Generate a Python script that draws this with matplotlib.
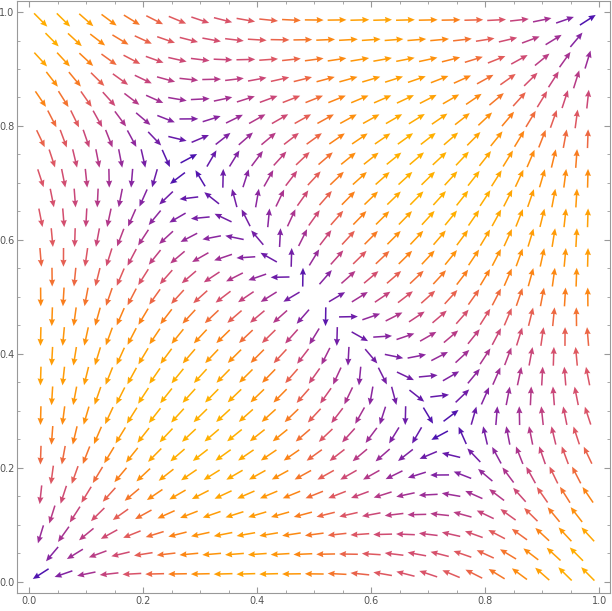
import numpy as np
import matplotlib
matplotlib.use('Agg')
import matplotlib.pyplot as plt
from matplotlib.colors import LinearSegmentedColormap

# arrow readings from the picture: position, direction (deg) and colour level (0 purple .. 1 yellow)
obs_rows = [
    # upper-left block
    (0.986, [0.016, 0.056, 0.096, 0.135, 0.175, 0.214, 0.254, 0.293], [-47, -40, -36, -33, -29, -27, -22, -19], [1.0, .87, .75, .75, .63, .53, .53, .5]),
    (0.951, [0.035, 0.075, 0.115, 0.155, 0.194, 0.233, 0.273], [-44, -40, -35, -30, -26, -18, -15], [.8, .75, .63, .55, .53, .45, .38]),
    (0.916, [0.016, 0.056, 0.096, 0.135, 0.175, 0.214, 0.254, 0.293], [-53, -45, -40, -34, -28, -20, -10, -5], [.78, .75, .63, .55, .5, .43, .38, .35]),
    (0.880, [0.036, 0.075, 0.115, 0.155, 0.194, 0.233, 0.273], [-55, -52, -45, -35, -20, -10, 0], [.75, .63, .55, .5, .4, .3, .25]),
    (0.846, [0.016, 0.056, 0.096, 0.135, 0.175, 0.214, 0.254, 0.293], [-60, -55, -50, -40, -27, -15, 0, 5], [.72, .7, .55, .45, .35, .22, .15, .15]),
    (0.811, [0.036, 0.075, 0.115, 0.155, 0.194, 0.233, 0.273], [-65, -62, -58, -50, -35, -20, 5], [.63, .55, .45, .35, .2, .12, .12]),
    (0.776, [0.016, 0.056, 0.096, 0.135, 0.175, 0.214, 0.254, 0.293], [-64, -68, -66, -63, -60, -50, -15, 15], [.55, .53, .4, .3, .22, .12, .08, .08]),
    (0.740, [0.036, 0.075, 0.115, 0.155, 0.194, 0.233, 0.273], [-75, -76, -78, -80, -78, -70, 15], [.53, .5, .4, .3, .15, .08, .06]),
    (0.706, [0.016, 0.056, 0.096, 0.135, 0.175, 0.214, 0.254, 0.300], [-74, -84, -86, -88, -92, -100, -130, 115], [.5, .5, .4, .3, .2, .1, .05, .05]),
    # left block
    (0.632, [0.016, 0.056, 0.096, 0.135, 0.175, 0.214, 0.254, 0.293], [-82, -85, -90, -95, -110, -125, -145, -160], [.5, .45, .35, .33, .25, .15, .1, .1]),
    (0.597, [0.036, 0.075, 0.115, 0.155, 0.194, 0.233, 0.273, 0.310], [-87, -90, -95, -105, -120, -130, -145, -160], [.53, .5, .45, .43, .35, .33, .25, .2]),
    (0.562, [0.016, 0.056, 0.096, 0.135, 0.175, 0.214, 0.254, 0.293], [-88, -90, -95, -105, -115, -125, -135, -145], [.58, .55, .53, .5, .45, .38, .33, .28]),
    (0.526, [0.036, 0.075, 0.115, 0.155, 0.194, 0.233, 0.273, 0.310], [-90, -95, -100, -110, -120, -128, -135, -140], [.65, .63, .58, .55, .53, .5, .45, .38]),
    (0.491, [0.016, 0.056, 0.096, 0.135, 0.175, 0.214, 0.254, 0.293], [-90, -95, -100, -110, -115, -125, -130, -135], [.75, .75, .73, .72, .7, .65, .6, .53]),
    (0.456, [0.036, 0.075, 0.115, 0.155, 0.194, 0.233, 0.273, 0.310], [-92, -97, -105, -113, -120, -125, -130, -135], [.82, .8, .78, .77, .75, .75, .73, .7]),
    (0.420, [0.016, 0.096, 0.175, 0.254], [-90, -102, -118, -128], [.88, .87, .87, .85]),
    (0.385, [0.036, 0.115, 0.194, 0.273], [-92, -105, -120, -128], [.9, .9, .9, .9]),
    (0.350, [0.016, 0.096, 0.175, 0.254], [-92, -102, -118, -128], [.95, .95, .95, .95]),
    # lower-left block
    (0.290, [0.036, 0.115, 0.194, 0.273], [-93, -108, -122, -132], [.8, .85, .95, 1.0]),
    (0.256, [0.016, 0.056, 0.096, 0.135, 0.175, 0.214, 0.254, 0.293], [-93, -100, -110, -120, -125, -130, -135, -140], [.75, .75, .75, .78, .85, .95, 1.0, 1.0]),
    (0.220, [0.036, 0.075, 0.115, 0.155, 0.194, 0.233, 0.273, 0.310], [-95, -105, -115, -125, -135, -140, -145, -150], [.68, .72, .75, .77, .8, .88, .95, .95]),
    (0.182, [0.016, 0.056, 0.096, 0.135, 0.175, 0.214, 0.254, 0.293], [-95, -105, -115, -125, -135, -145, -150, -155], [.55, .63, .65, .72, .75, .78, .8, .88]),
    (0.144, [0.036, 0.075, 0.115, 0.155, 0.194, 0.233, 0.273, 0.310], [-100, -110, -125, -135, -145, -155, -160, -160], [.45, .53, .55, .63, .72, .75, .78, .8]),
    (0.111, [0.016, 0.056, 0.096, 0.135, 0.175, 0.214, 0.254, 0.293], [-105, -115, -130, -145, -150, -160, -165, -165], [.35, .38, .45, .53, .6, .7, .75, .78]),
    (0.076, [0.036, 0.075, 0.115, 0.155, 0.194, 0.233, 0.273, 0.310], [-110, -125, -140, -155, -160, -165, -170, -172], [.25, .33, .43, .53, .6, .7, .75, .78]),
    (0.042, [0.016, 0.056, 0.096, 0.135, 0.175, 0.214, 0.254, 0.293], [-125, -140, -155, -165, -170, -172, -175, -175], [.12, .22, .33, .45, .53, .63, .72, .78]),
    (0.014, [0.02, 0.06, 0.10, 0.14, 0.18, 0.22, 0.26, 0.30, 0.34, 0.38, 0.42, 0.46, 0.50, 0.54, 0.58, 0.62, 0.66, 0.70, 0.74, 0.78, 0.82, 0.86, 0.90, 0.94, 0.98],
     [-140, -160, -165, -170, -175, -178, 180, 180, 180, 180, 180, 180, 180, 178, 175, 170, 165, 158, 152, 145, 142, 140, 137, 135, 130],
     [.1, .2, .3, .4, .53, .63, .75, .87, .95, 1.0, .9, .8, .75, .68, .6, .55, .53, .53, .55, .63, .7, .78, .87, .95, 1.0]),
    # centre block
    (0.739, [0.320, 0.358, 0.400, 0.440, 0.478, 0.520, 0.560, 0.600, 0.640], [60, 60, 55, 45, 40, 40, 38, 35, 35], [.12, .15, .33, .45, .55, .7, .85, .9, 1.0]),
    (0.703, [0.340, 0.381, 0.419, 0.458, 0.500, 0.540, 0.578, 0.620, 0.657], [90, 80, 60, 50, 45, 40, 40, 38, 35], [.08, .12, .22, .4, .6, .75, .78, .87, 1.0]),
    (0.668, [0.320, 0.358, 0.400, 0.440, 0.478, 0.520, 0.560, 0.600, 0.640], [145, 100, 80, 65, 55, 50, 45, 45, 45], [.08, .08, .2, .33, .45, .55, .75, .75, 1.0]),
    (0.636, [0.305, 0.340, 0.378, 0.419, 0.458, 0.500, 0.540, 0.580, 0.620, 0.657], [170, 160, 115, 90, 70, 60, 55, 50, 48, 45], [.2, .1, .08, .08, .33, .45, .53, .75, .75, .87]),
    (0.600, [0.320, 0.361, 0.393, 0.440, 0.480, 0.520, 0.560, 0.600, 0.640], [175, 175, 135, 90, 75, 60, 55, 50, 50], [.2, .1, .08, .08, .25, .45, .55, .75, .75]),
    (0.564, [0.305, 0.343, 0.381, 0.419, 0.460, 0.500, 0.540, 0.578, 0.620, 0.657], [-160, -175, 175, 155, 90, 65, 55, 50, 48, 45], [.35, .25, .1, .08, .06, .2, .43, .53, .75, .75]),
    (0.530, [0.305, 0.346, 0.387, 0.440, 0.480, 0.520, 0.559, 0.600, 0.640], [-150, -155, -165, 180, 90, 55, 45, 45, 45], [.53, .45, .25, .08, .05, .08, .45, .53, .75]),
    (0.497, [0.320, 0.358, 0.400, 0.460, 0.540, 0.578, 0.620, 0.657], [-135, -140, -145, -150, 30, 35, 35, 40], [.63, .53, .35, .08, .08, .33, .53, .63]),
    (0.462, [0.320, 0.361, 0.400, 0.440, 0.478, 0.520, 0.560, 0.600, 0.640], [-135, -135, -130, -120, -120, -90, 0, 15, 20], [.75, .63, .53, .35, .08, .05, .08, .22, .33]),
    (0.427, [0.305, 0.343, 0.381, 0.419, 0.458, 0.500, 0.540, 0.578, 0.620, 0.657], [-130, -130, -125, -115, -105, -100, -90, -30, 5, 10], [.75, .75, .63, .53, .35, .22, .1, .08, .08, .22]),
    (0.394, [0.320, 0.360, 0.400, 0.440, 0.480, 0.520, 0.560, 0.599, 0.643, 0.684, 0.728, 0.769, 0.807], [-130, -125, -120, -110, -100, -95, -85, -50, -10, 10, 30, 40, 50], [.87, .75, .63, .53, .35, .22, .1, .08, .08, .22, .33, .43, .53]),
    # saddle neighbourhoods
    (0.809, [0.200, 0.238, 0.279, 0.320, 0.358, 0.400], [-45, -25, 0, 15, 30, 40], [.22, .22, .22, .33, .33, .43]),
    (0.774, [0.179, 0.220, 0.261, 0.300, 0.340, 0.378, 0.416], [-60, -50, -15, 15, 40, 45, 50], [.33, .1, .08, .08, .22, .33, .43]),
    (0.670, [0.200, 0.235, 0.282, 0.320, 0.358, 0.400], [-115, -130, 170, 140, 105, 90], [.1, .08, .06, .08, .08, .1]),
    (0.355, [0.622, 0.660, 0.705, 0.740, 0.783, 0.815], [-68, -35, 10, 35, 50, 60], [.08, .08, .08, .22, .33, .43]),
    (0.320, [0.601, 0.640, 0.678, 0.720, 0.760, 0.800], [-100, -80, -40, 10, 45, 60], [.1, .08, .06, .06, .08, .22]),
    (0.285, [0.620, 0.660, 0.700, 0.740, 0.783, 0.820], [-110, -95, -65, 45, 75, 85], [.22, .1, .05, .06, .1, .22]),
    (0.250, [0.600, 0.640, 0.678, 0.722, 0.759, 0.800], [-125, -125, -115, 165, 115, 100], [.33, .22, .1, .06, .08, .1]),
    (0.214, [0.616, 0.658, 0.698, 0.742, 0.780, 0.820], [-135, -140, -160, 160, 130, 110], [.33, .22, .1, .08, .1, .22]),
    # lower-right block
    (0.182, [0.678, 0.722, 0.760, 0.800, 0.843, 0.880, 0.921, 0.960], [-175, 180, 160, 140, 130, 125, 125, 125], [.1, .1, .22, .33, .43, .53, .63, .75]),
    (0.146, [0.660, 0.700, 0.740, 0.780, 0.820, 0.860, 0.900, 0.940, 0.980], [180, 178, 170, 150, 140, 135, 130, 130, 125], [.22, .22, .33, .33, .43, .53, .63, .75, .87]),
    (0.111, [0.678, 0.720, 0.760, 0.800, 0.843, 0.880, 0.920, 0.960], [178, 175, 165, 150, 140, 135, 135, 130], [.33, .43, .45, .53, .63, .75, .75, .87]),
    (0.076, [0.660, 0.700, 0.740, 0.780, 0.820, 0.860, 0.900, 0.940, 0.980], [175, 172, 170, 160, 150, 140, 135, 135, 130], [.45, .53, .53, .53, .63, .75, .87, .87, 1.0]),
    (0.041, [0.678, 0.720, 0.760, 0.800, 0.843, 0.880, 0.920, 0.960], [170, 168, 160, 150, 145, 140, 135, 135], [.53, .53, .63, .75, .75, .87, 1.0, 1.0]),
    # upper-right block
    (0.985, [0.663, 0.704, 0.745, 0.784, 0.826, 0.867, 0.905, 0.943, 0.980], [0, 0, 0, 2, 3, 5, 8, 12, 40], [.75, .75, .63, .53, .45, .35, .25, .15, .1]),
    (0.914, [0.663, 0.704, 0.745, 0.784, 0.826, 0.867, 0.905, 0.943, 0.980], [10, 12, 15, 18, 25, 32, 40, 55, 75], [.75, .75, .75, .63, .53, .45, .35, .25, .2]),
    (0.810, [0.663, 0.704, 0.745, 0.784, 0.826, 0.867, 0.905, 0.943, 0.980], [30, 30, 35, 40, 45, 55, 65, 75, 85], [1.0, 1.0, .87, .75, .63, .53, .45, .45, .45]),
    (0.705, [0.663, 0.704, 0.745, 0.784, 0.826, 0.867, 0.905, 0.943, 0.980], [40, 40, 45, 45, 50, 60, 70, 80, 88], [1.0, 1.0, 1.0, .87, .75, .75, .63, .63, .6]),
    (0.600, [0.663, 0.704, 0.745, 0.784, 0.826, 0.867, 0.905, 0.943, 0.980], [40, 42, 45, 50, 55, 65, 75, 85, 90], [1.0, 1.0, 1.0, 1.0, .87, .75, .75, .75, .8]),
]

# points where the field vanishes (centre and the two saddles)
zero_x = [0.5, 0.285, 0.715]
zero_y = [0.5, 0.712, 0.288]

# colour scale used when reading the levels above
level_stops = [0.0, 0.1, 0.22, 0.33, 0.43, 0.53, 0.63, 0.75, 0.87, 1.0]
level_colors = ['#3f10b2', '#6419aa', '#8a27a0', '#aa348f', '#c6447c', '#da5468',
                '#ec6646', '#fb8118', '#ff9a08', '#ffb000']

obs_x = np.concatenate([r[1] for r in obs_rows])
obs_y = np.concatenate([[r[0]] * len(r[1]) for r in obs_rows])
obs_angle = np.radians(np.concatenate([r[2] for r in obs_rows]))
obs_level = np.concatenate([r[3] for r in obs_rows])

# odd polynomial field, symmetric under x<->y and point reflection about the centre
terms = [(i, n - i) for n in (1, 3, 5, 7, 9) for i in range(n + 1)]


def mono(s, t):
    return np.stack([s ** i * t ** j for i, j in terms], axis=-1)


s = 2 * (obs_x - 0.5)
t = 2 * (obs_y - 0.5)
Bx = mono(s, t)
By = mono(t, s)
c = np.cos(obs_angle)[:, None]
sn = np.sin(obs_angle)[:, None]
wd = 1.0 / np.maximum(obs_level, 0.15)[:, None]
wm = 2.0
A = [(-sn * Bx + c * By) * wd, (c * Bx + sn * By) * wm]
b = [np.zeros(len(obs_x)), obs_level * wm]
zs = 2 * (np.array(zero_x) - 0.5)
zt = 2 * (np.array(zero_y) - 0.5)
A += [mono(zs, zt) * 5, mono(zt, zs) * 5]
b += [np.zeros(len(zs)), np.zeros(len(zs))]
A.append(np.eye(len(terms)) * 0.03)
b.append(np.zeros(len(terms)))
coef = np.linalg.lstsq(np.vstack(A), np.concatenate(b), rcond=None)[0]

# hexagonal arrow grid
px, py = [], []
for k in range(29):
    y = 0.014 + k * 0.972 / 28
    xs = np.arange(25) * 0.04 + 0.02 if k % 2 == 0 else np.arange(24) * 0.04 + 0.04
    px.extend(xs)
    py.extend([y] * len(xs))
px = np.array(px)
py = np.array(py)
gs = 2 * (px - 0.5)
gt = 2 * (py - 0.5)
vx = mono(gs, gt) @ coef
vy = mono(gt, gs) @ coef
mag = np.hypot(vx, vy)
level = np.clip(mag / np.percentile(mag, 97), 0, 1)

cmap = LinearSegmentedColormap.from_list('vec', list(zip(level_stops, level_colors)))

L = 0.033
fig = plt.figure(figsize=(6.12, 6.11), dpi=100)
ax = fig.add_axes([0.0283, 0.029, 0.9685, 0.970])
ax.quiver(px, py, L * vx / mag, L * vy / mag, color=cmap(level),
          angles='xy', scale_units='xy', scale=1, pivot='mid',
          width=0.0026, headwidth=4.0, headlength=4.6, headaxislength=4.2)
ax.set_xlim(-0.021, 1.019)
ax.set_ylim(-0.02, 1.02)
ax.set_xticks(np.arange(0, 1.01, 0.2))
ax.set_yticks(np.arange(0, 1.01, 0.2))
ax.set_xticks(np.arange(0, 1.01, 0.05), minor=True)
ax.set_yticks(np.arange(0, 1.01, 0.05), minor=True)
ax.xaxis.set_major_formatter(plt.FuncFormatter(lambda v, p: f'{v:.1f}'))
ax.yaxis.set_major_formatter(plt.FuncFormatter(lambda v, p: f'{v:.1f}'))
ax.tick_params(which='both', direction='in', top=True, right=True, color='#999999',
               labelsize=7, labelcolor='#555555', pad=2)
ax.tick_params(which='major', length=4)
ax.tick_params(which='minor', length=2.2)
for sp in ax.spines.values():
    sp.set_color('#999999')
fig.savefig('out.png')
